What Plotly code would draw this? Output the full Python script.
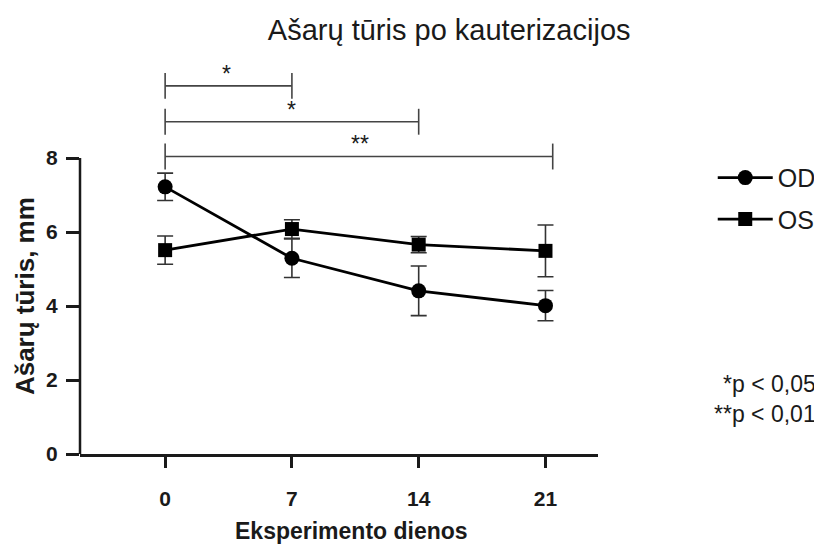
import plotly.graph_objects as go

days = [0, 7, 14, 21]
tick_labels = ["0", "7", "14", "21"]
od_mean = [7.22, 5.29, 4.41, 4.01]
od_err = [0.37, 0.52, 0.67, 0.41]
os_mean = [5.51, 6.08, 5.66, 5.49]
os_err = [0.38, 0.25, 0.22, 0.70]

# significance brackets: (start day, end day, level, label, label x)
brackets = [
    (0, 7, 9.95, "*", 3.4),
    (0, 14, 8.98, "*", 7.0),
    (0, 21.4, 8.04, "**", 10.75),
]

FONT = "Liberation Sans, Arial, sans-serif"
INK = "#1a1a1a"

fig = go.Figure()
fig.add_trace(go.Scatter(
    x=days, y=od_mean, name="OD", mode="lines+markers", legendgroup="a",
    line=dict(color="black", width=2.8),
    marker=dict(symbol="circle", size=15, color="black"),
    error_y=dict(type="data", array=od_err, color="#333", thickness=1.6, width=8),
))
fig.add_trace(go.Scatter(
    x=days, y=os_mean, name="OS", mode="lines+markers", legendgroup="b",
    line=dict(color="black", width=2.8),
    marker=dict(symbol="square", size=14, color="black"),
    error_y=dict(type="data", array=os_err, color="#333", thickness=1.6, width=8),
))

shapes = []
annotations = []
for x0, x1, yv, lab, xs in brackets:
    shapes.append(dict(type="line", xref="x", yref="y", x0=x0, x1=x1, y0=yv, y1=yv,
                       line=dict(color="#444", width=1.6)))
    for xx in (x0, x1):
        shapes.append(dict(type="line", xref="x", yref="y", x0=xx, x1=xx, y0=yv - 0.35, y1=yv + 0.35,
                           line=dict(color="#444", width=1.6)))
    annotations.append(dict(x=xs, y=yv - 0.08, xref="x", yref="y", text=lab, showarrow=False,
                            yanchor="bottom", font=dict(size=23, color=INK, family=FONT)))

# y axis line only from 0 to 8
shapes.append(dict(type="line", xref="x domain", yref="y", x0=0, x1=0, y0=0, y1=8,
                   line=dict(color=INK, width=2.5)))

annotations.append(dict(xref="paper", yref="paper", x=1.4247, y=0.172, xanchor="right", yanchor="middle",
                        text="*p < 0,05", showarrow=False, font=dict(size=23, color=INK, family=FONT)))
annotations.append(dict(xref="paper", yref="paper", x=1.4247, y=0.098, xanchor="right", yanchor="middle",
                        text="**p < 0,01", showarrow=False, font=dict(size=23, color=INK, family=FONT)))

# axis titles
annotations.append(dict(xref="paper", yref="y", x=-0.106, y=4.27, xanchor="center", yanchor="middle",
                        textangle=-90, text="Ašarų tūris, mm", showarrow=False,
                        font=dict(size=26, color=INK, family=FONT, weight="bold")))
annotations.append(dict(xref="paper", yref="paper", x=0.525, y=-0.19, xanchor="center", yanchor="middle",
                        text="Eksperimento dienos", showarrow=False,
                        font=dict(size=23, color=INK, family=FONT, weight="bold")))

fig.update_layout(
    width=814, height=538,
    margin=dict(l=72, r=224, t=39, b=92, autoexpand=False),
    paper_bgcolor="white", plot_bgcolor="white",
    title=dict(text="Ašarų tūris po kauterizacijos", x=0.542, xanchor="center", y=0.959, yanchor="middle",
               font=dict(size=29, color=INK, family=FONT)),
    font=dict(family=FONT, color=INK),
    showlegend=True,
    legend=dict(x=1.43, y=0.735, xanchor="right", yanchor="top", font=dict(size=25, color=INK, family=FONT),
                bgcolor="rgba(0,0,0,0)", tracegroupgap=6, itemwidth=55),
    shapes=shapes,
    annotations=annotations,
    xaxis=dict(range=[-4.7, 23.9], tickvals=days, ticktext=tick_labels, showgrid=False, zeroline=False,
               showline=True, linecolor=INK, linewidth=2.5, ticks="outside", ticklen=11, tickwidth=2.5,
               tickcolor=INK, ticklabelstandoff=13,
               tickfont=dict(size=21, family=FONT, color=INK, weight="bold")),
    yaxis=dict(range=[0, 11], tickvals=[0, 2, 4, 6, 8], showgrid=False, zeroline=False, showline=False,
               ticks="outside", ticklen=13, tickwidth=2.5, tickcolor=INK, ticklabelstandoff=4,
               tickfont=dict(size=21, family=FONT, color=INK, weight="bold")),
)

fig.write_html("out.html")
